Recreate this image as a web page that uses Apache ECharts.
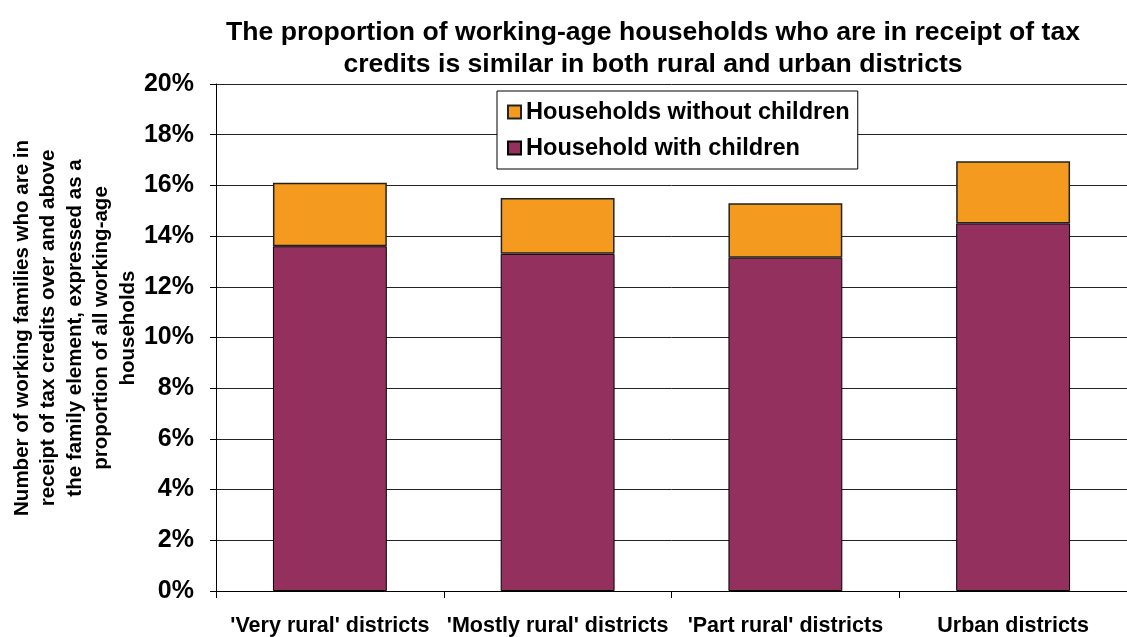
<!DOCTYPE html>
<html><head><meta charset="utf-8">
<script src="https://cdn.jsdelivr.net/npm/echarts@6/dist/echarts.min.js"></script>
<style>html,body{margin:0;padding:0;background:#fff}#c{width:1127px;height:637px}</style>
</head><body><div id="c"></div>
<script>
const categories = ["'Very rural' districts", "'Mostly rural' districts", "'Part rural' districts", "Urban districts"];
const withChildren = [0.136, 0.133, 0.1315, 0.145];
const withoutChildren = [0.025, 0.022, 0.0215, 0.0245];
const yTicks = [0, 0.02, 0.04, 0.06, 0.08, 0.10, 0.12, 0.14, 0.16, 0.18, 0.20];

const chart = echarts.init(document.getElementById('c'), null, {renderer: 'canvas'});
chart.setOption({
  animation: false,
  backgroundColor: '#fff',
  title: {
    text: 'The proportion of working-age households who are in receipt of tax\ncredits is similar in both rural and urban districts',
    left: 648, top: 12, textAlign: 'center',
    textStyle: {fontFamily: 'Arial, Liberation Sans', fontWeight: 'bold', fontSize: 26.6, lineHeight: 32, color: '#000'}
  },
  legend: {
    orient: 'vertical', left: 497, top: 91,
    data: ['Households without children', 'Household with children'],
    backgroundColor: '#fff', borderColor: '#000', borderWidth: 1,
    padding: [9, 8, 9, 10], itemGap: 12, itemWidth: 13, itemHeight: 13,
    icon: 'rect',
    textStyle: {fontFamily: 'Arial, Liberation Sans', fontWeight: 'bold', fontSize: 23.6, color: '#000', padding: [0,0,0,0]}
  },
  grid: {left: 216, right: 0, top: 84, bottom: 44},
  xAxis: {
    type: 'category', data: categories,
    axisLine: {lineStyle: {color: '#000', width: 1}},
    axisTick: {show: true, length: 7, lineStyle: {color: '#000'}},
    axisLabel: {fontFamily: 'Arial, Liberation Sans', fontWeight: 'bold', fontSize: 21.5, color: '#000', margin: 24, interval: 0}
  },
  yAxis: {
    type: 'value', min: 0, max: 0.20, interval: 0.02,
    axisLine: {show: true, lineStyle: {color: '#000', width: 1}},
    axisTick: {show: true, length: 6, lineStyle: {color: '#000'}},
    splitLine: {lineStyle: {color: '#222', width: 1}},
    axisLabel: {
      fontFamily: 'Arial, Liberation Sans', fontWeight: 'bold', fontSize: 25, color: '#000', margin: 22,
      formatter: v => Math.round(v * 100) + '%'
    }
  },
  series: [
    {
      name: 'Household with children', type: 'bar', stack: 'a', data: withChildren, barWidth: '50%',
      itemStyle: {color: '#93305E', borderColor: '#000', borderWidth: 1}
    },
    {
      name: 'Households without children', type: 'bar', stack: 'a', data: withoutChildren, barWidth: '50%',
      itemStyle: {color: '#F39A1F', borderColor: '#222', borderWidth: 1.5}
    }
  ],
  graphic: [{
    type: 'text', x: 75, y: 328, rotation: Math.PI / 2,
    style: {
      text: 'Number of working families who are in\nreceipt of tax credits over and above\nthe family element, expressed as a\nproportion of all working-age\nhouseholds',
      fontFamily: 'Arial, Liberation Sans', fontWeight: 'bold', fontSize: 20.5, lineHeight: 26.5,
      fill: '#000', align: 'center', verticalAlign: 'middle'
    }
  }]
});
</script></body></html>
